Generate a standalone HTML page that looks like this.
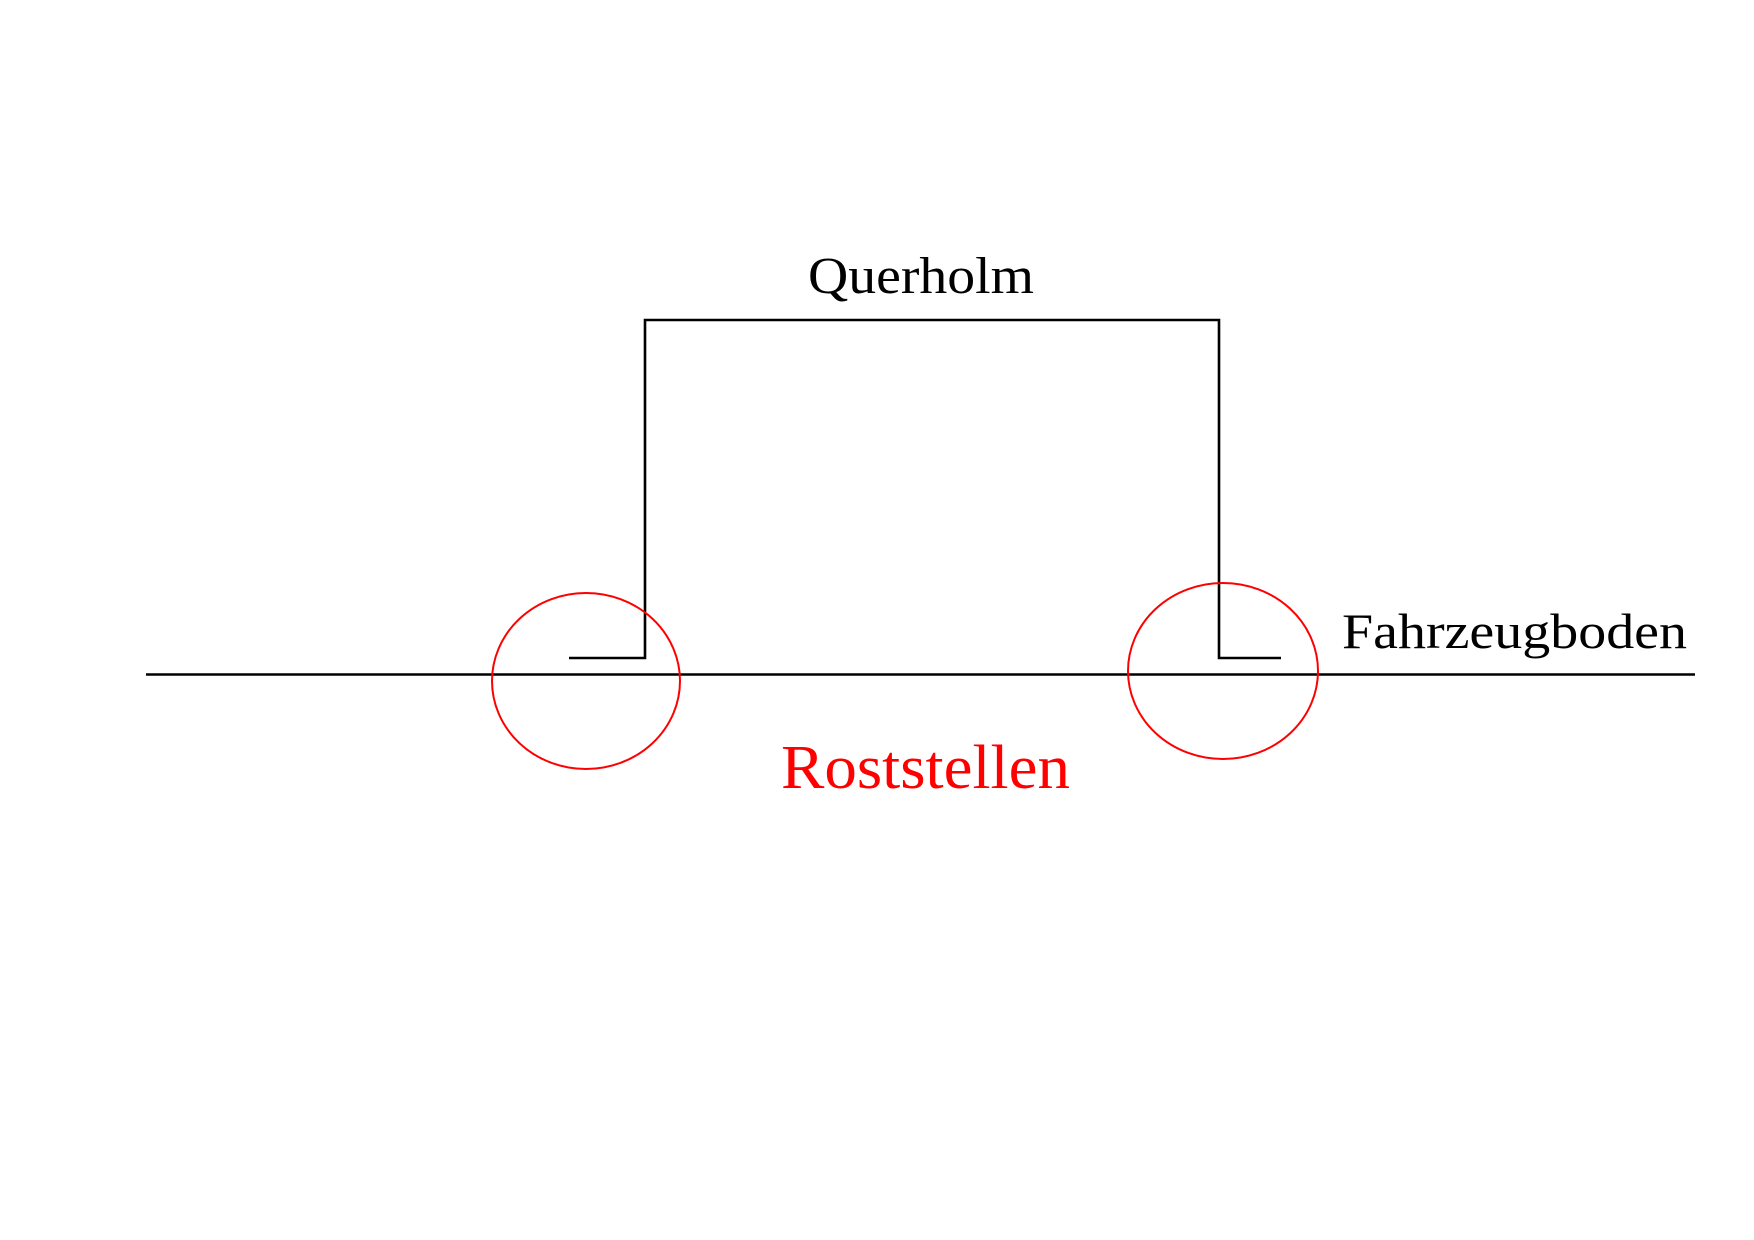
<!DOCTYPE html>
<html><head><meta charset="utf-8"><style>html,body{margin:0;padding:0;background:#fff}</style></head>
<body>
<svg width="1754" height="1240" xmlns="http://www.w3.org/2000/svg" style="display:block">
<rect width="1754" height="1240" fill="#fff"/>
<g stroke="#000" stroke-width="2.6" fill="none">
<line x1="146" y1="674.5" x2="1695" y2="674.5"/>
<polyline points="569,658 645,658 645,320 1219,320 1219,658 1281,658"/>
</g>
<g stroke="#f00" stroke-width="2" fill="none">
<ellipse cx="586" cy="681" rx="94" ry="88"/>
<ellipse cx="1223" cy="671" rx="95" ry="88"/>
</g>
<g font-family="Liberation Serif, serif">
<text x="808" y="293" font-size="52" textLength="226" lengthAdjust="spacingAndGlyphs">Querholm</text>
<text x="1342" y="648" font-size="50" textLength="345" lengthAdjust="spacingAndGlyphs">Fahrzeugboden</text>
<text x="781" y="788" font-size="62" fill="#f00" textLength="289" lengthAdjust="spacingAndGlyphs">Roststellen</text>
</g>
</svg>
</body></html>
